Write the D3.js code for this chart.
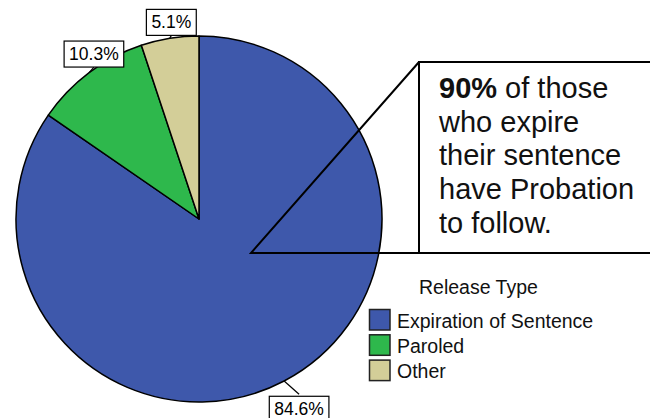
<!DOCTYPE html>
<html><head><meta charset="utf-8">
<script src="https://cdn.jsdelivr.net/npm/d3@7"></script>
<style>body{margin:0;background:#fff}svg{display:block;font-family:"Liberation Sans",Arial,sans-serif}</style>
</head><body><svg id="c" width="650" height="418"></svg>
<script>
const categories = ["Expiration of Sentence", "Paroled", "Other"];
const values = [84.6, 10.3, 5.1];
const colors = ["#3e58ab", "#2eb84c", "#d3ce98"];
const legendTitle = "Release Type";
const noteBold = "90%";
const noteLines = [" of those", "who expire", "their sentence", "have Probation", "to follow."];

const svg = d3.select("#c");
const cx = 199, cy = 219, r = 183;
const pie = d3.pie().sort(null).value(d => d)(values);
const arc = d3.arc().innerRadius(0).outerRadius(r);
const g = svg.append("g").attr("transform", `translate(${cx},${cy})`);
g.selectAll("path").data(pie).join("path")
  .attr("d", arc).attr("fill", (d,i) => colors[i])
  .attr("stroke", "#000").attr("stroke-width", 1.5).attr("stroke-linejoin","round");

// labels
pie.forEach((d,i) => {
  const a = (d.startAngle + d.endAngle) / 2;
  const sx = Math.sin(a), sy = -Math.cos(a);
  const p0 = [sx * r, sy * r];
  const len = i === 0 ? 15 : (i === 1 ? 7 : 3);
  const shift = i === 0 ? 8 : (i === 1 ? 9 : 2);
  const p1 = [sx * (r + len) + shift, sy * (r + len)];
  g.append("line").attr("x1", p0[0]).attr("y1", p0[1]).attr("x2", p1[0]).attr("y2", p1[1])
    .attr("stroke", "#000").attr("stroke-width", 1.2);
  const t = g.append("text").attr("font-size", 17.5).attr("text-anchor", "middle")
    .text(d3.format(".1f")(d.value) + "%");
  const w = t.node().getComputedTextLength() + 10, h = 26;
  const by = sy > 0 ? p1[1] + 2 : p1[1] - h;
  g.insert("rect", "text:last-of-type").attr("x", p1[0] - w/2).attr("y", by).attr("width", w).attr("height", h)
    .attr("fill", "#fff").attr("stroke", "#000").attr("stroke-width", 1.2);
  t.attr("x", p1[0]).attr("y", by + 19).raise();
});

// annotation callout
const apex = [cx + 52, cy + 34];
const bx = 419, btop = 62, bbot = apex[1];
svg.append("rect").attr("x", bx).attr("y", btop).attr("width", 260).attr("height", bbot - btop)
  .attr("fill", "#fff").attr("stroke", "#000").attr("stroke-width", 2);
svg.append("path").attr("d", `M${bx},${btop}L${apex[0]},${apex[1]}L${bx},${bbot}`)
  .attr("fill", "none").attr("stroke", "#000").attr("stroke-width", 2);
const nt = svg.append("text").attr("font-size", 29).attr("fill", "#111");
const lineH = 33.7, tx = 439, ty0 = 98;
noteLines.forEach((s, i) => {
  const ts = nt.append("tspan").attr("x", tx).attr("y", ty0 + i * lineH);
  if (i === 0) {
    ts.append("tspan").attr("font-weight", "bold").text(noteBold);
    nt.append("tspan").text(s);
  } else ts.text(s);
});

// legend
const lg = svg.append("g");
lg.append("text").attr("x", 419).attr("y", 294).attr("font-size", 19.5).attr("fill","#111").text(legendTitle);
categories.forEach((c, i) => {
  const y = 309.5 + i * 25.3;
  lg.append("rect").attr("x", 369.5).attr("y", y).attr("width", 20.5).attr("height", 20.5)
    .attr("fill", colors[i]).attr("stroke", "#222").attr("stroke-width", 1.5);
  lg.append("text").attr("x", 397).attr("y", y + 18).attr("font-size", 19.5).attr("fill","#111").text(c);
});
</script></body></html>
